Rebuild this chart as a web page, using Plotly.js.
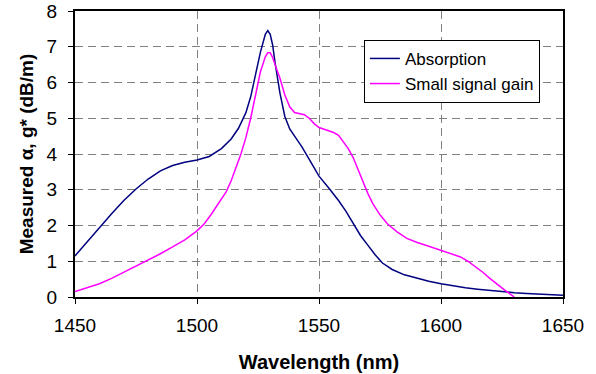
<!DOCTYPE html>
<html><head><meta charset="utf-8">
<script src="https://cdn.plot.ly/plotly-3.0.1.min.js"></script>
<style>html,body{margin:0;padding:0;background:#fff}#c{width:596px;height:374px}</style>
</head><body><div id="c"></div>
<script>
const absWl = [1450,1455,1460,1465,1470,1475,1480,1485,1490,1495,1500,1505,1510,1514,1517,1520,1522,1524,1526,1528,1529,1530,1531,1532,1534,1536,1538,1540,1543,1546,1550,1554,1558,1561,1564,1567,1570,1573,1576,1580,1585,1590,1595,1600,1605,1610,1615,1620,1625,1630,1635,1640,1645,1650];
const absVal = [1.15,1.55,1.95,2.33,2.70,3.02,3.30,3.53,3.68,3.77,3.83,3.93,4.15,4.42,4.72,5.15,5.60,6.25,6.85,7.35,7.45,7.35,7.05,6.55,5.70,5.05,4.70,4.50,4.20,3.85,3.38,3.05,2.70,2.40,2.05,1.72,1.45,1.18,0.95,0.77,0.62,0.52,0.44,0.37,0.31,0.26,0.22,0.18,0.15,0.12,0.10,0.08,0.06,0.05];
const gainWl = [1450,1455,1460,1465,1470,1475,1480,1485,1490,1495,1500,1503,1506,1509,1512,1514,1516,1518,1520,1522,1524,1526,1528,1529,1530,1531,1532,1534,1536,1538,1540,1542,1544,1546,1548,1550,1553,1556,1558,1560,1562,1564,1566,1568,1570,1572,1575,1578,1582,1586,1590,1595,1600,1605,1608,1611,1614,1617,1620,1623,1626,1628,1630];
const gainVal = [0.15,0.25,0.37,0.52,0.69,0.86,1.03,1.21,1.40,1.60,1.85,2.05,2.33,2.65,2.95,3.25,3.60,4.00,4.45,5.00,5.65,6.30,6.72,6.83,6.83,6.70,6.50,6.12,5.65,5.32,5.16,5.14,5.10,5.00,4.85,4.74,4.67,4.60,4.52,4.35,4.15,3.90,3.55,3.20,2.90,2.62,2.30,2.05,1.82,1.64,1.53,1.42,1.31,1.20,1.12,1.00,0.86,0.70,0.52,0.35,0.20,0.10,0.0];
const xTicks = [1450,1500,1550,1600,1650];
const yTicks = [0,1,2,3,4,5,6,7,8];
const seriesNames = ["Absorption","Small signal gain"];
const seriesColors = ["#000080","#FF00FF"];

const F = "Arial, 'Liberation Sans', sans-serif";
const traces = [
  {x: absWl, y: absVal, name: seriesNames[0], mode: 'lines', line: {color: seriesColors[0], width: 1.5}},
  {x: gainWl, y: gainVal, name: seriesNames[1], mode: 'lines', line: {color: seriesColors[1], width: 1.5}}
];
const layout = {
  width: 596, height: 374,
  margin: {l: 75, r: 33, t: 11, b: 77},
  paper_bgcolor: '#fff', plot_bgcolor: '#fff',
  font: {family: F, color: '#000', size: 19},
  showlegend: true,
  legend: {x: 0.592, y: 0.899, xanchor: 'left', yanchor: 'top', bgcolor: '#fff', bordercolor: '#000', borderwidth: 1, font: {size: 17, family: F}, tracegroupgap: 0, itemwidth: 30},
  xaxis: {range: [1450, 1650], tickvals: xTicks, ticktext: xTicks.map(String), showgrid: true, gridcolor: '#808080', griddash: '8px,5px', gridwidth: 1,
    showline: true, mirror: true, linecolor: '#000', linewidth: 2, ticks: 'outside', ticklen: 5, tickcolor: '#000', tickwidth: 1, zeroline: false,
    ticklabelstandoff: 5,
    tickfont: {size: 19}, title: {text: '<b>Wavelength (nm)</b>', font: {size: 20}, standoff: 20}},
  yaxis: {range: [0, 8], tickvals: yTicks, showgrid: true, gridcolor: '#808080', griddash: '8px,5px', gridwidth: 1,
    showline: true, mirror: true, linecolor: '#000', linewidth: 2, ticks: 'outside', ticklen: 5, tickcolor: '#000', tickwidth: 1, zeroline: false,
    ticklabelstandoff: 7,
    tickfont: {size: 19}, title: {text: '<b>Measured α, g* (dB/m)</b>', font: {size: 19}, standoff: 8}}
};
Plotly.newPlot('c', traces, layout, {displayModeBar: false, staticPlot: true});
</script></body></html>
